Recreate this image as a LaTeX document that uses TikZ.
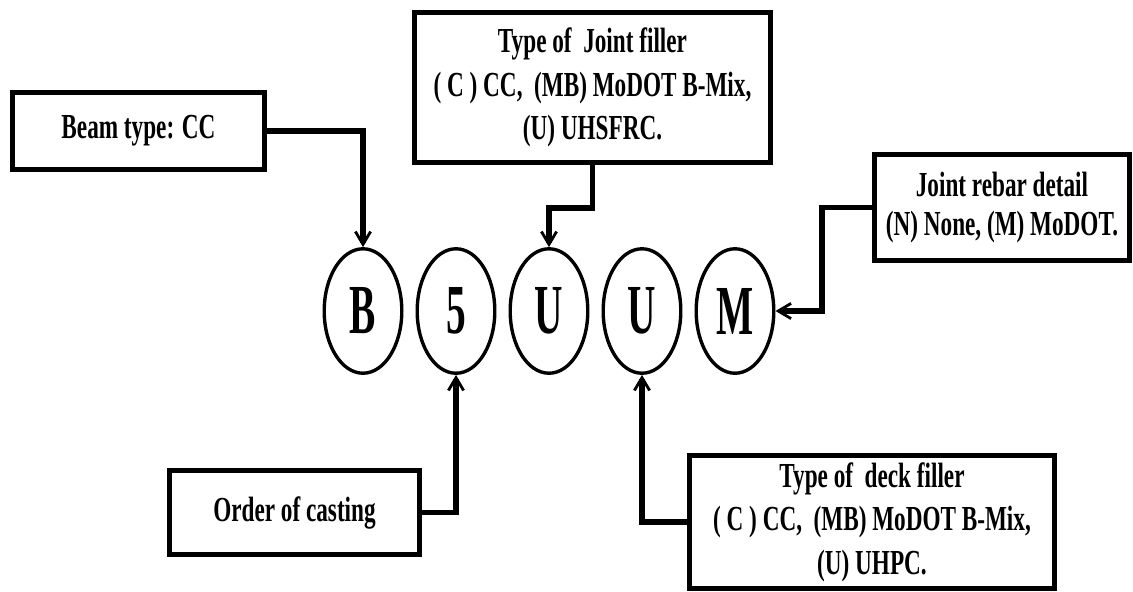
\documentclass[tikz,border=0pt]{standalone}
\usepackage{fontspec}
\setmainfont[FakeStretch=0.66]{Liberation Serif}
\newfontfamily\tagfont[FakeStretch=0.56]{Liberation Serif}
\usetikzlibrary{positioning,arrows.meta,shapes.geometric}

\begin{document}
\begin{tikzpicture}[x=0.025cm,y=-0.025cm,font=\bfseries\fontsize{25}{31}\selectfont,
      info/.style={draw,line width=4pt,align=center,inner sep=2pt},
      tag/.style={draw,ellipse,line width=2.4pt,minimum width=19.4mm,minimum height=31.1mm,inner sep=0pt,font=\tagfont\bfseries\fontsize{50}{50}\selectfont},
      link/.style={line width=4pt,-{Straight Barb[length=3.2mm,width=3.8mm,line width=2pt]}}]
    \useasboundingbox (0,0) rectangle (1133,592);
    % code letters
    \node[tag] (b) at (363,311) {B};
    \node[tag,right=3mm of b] (five) {5};
    \node[tag,right=3mm of five] (uj) {U};
    \node[tag,right=3mm of uj] (ud) {U};
    \node[tag,right=3mm of ud] (m) {M};
    % boxes
    \node[info,minimum width=63mm,minimum height=19.3mm] (beam) at (138.5,131) {Beam type: CC};
    \node[info,minimum width=89mm,minimum height=37.5mm] (joint) at (592.5,87.5)
      {Type of\ \ Joint filler\\( C ) CC,\ \ (MB) MoDOT B-Mix,\\(U) UHSFRC.};
    \node[info,minimum width=63.8mm,minimum height=26.5mm,font=\bfseries\fontsize{25}{27.5}\selectfont] (rebar) at (1002,207.5)
      {Joint rebar detail\\(N) None, (M) MoDOT.};
    \node[info,minimum width=62.5mm,minimum height=21mm] (casting) at (294.5,512.5) {Order of casting};
    \node[info,minimum width=91.3mm,minimum height=33.3mm] (deck) at (872,522)
      {Type of\ \ deck filler\\( C ) CC,\ \ (MB) MoDOT B-Mix,\\(U) UHPC.};
    % connectors
    \coordinate (jbend) at (0,208);
    \coordinate (rbend) at (822,0);
    \draw[link] (beam.east) -| (b.north);
    \draw[link] (joint.south) -- (joint.south |- jbend) -| (uj.north);
    \draw[link] (rebar.west) -| (rbend |- m.east) -- (m.east);
    \draw[link] (casting.east) -| (five.south);
    \draw[link] (deck.west) -| (ud.south);
  \end{tikzpicture}
\end{document}
